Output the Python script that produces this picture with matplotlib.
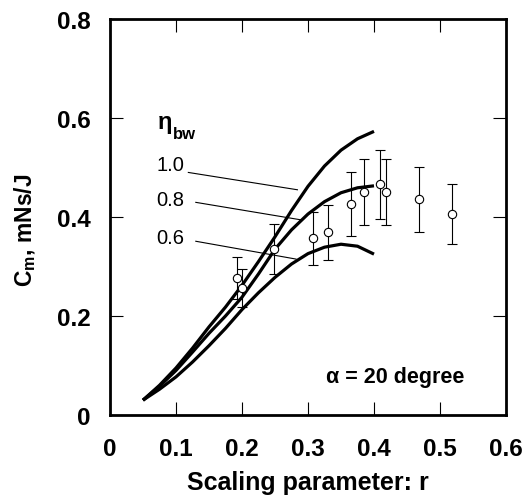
import matplotlib
matplotlib.use("Agg")
import matplotlib.pyplot as plt

plt.rcParams['font.family'] = ['Liberation Sans', 'DejaVu Sans']
plt.rcParams['mathtext.fontset'] = 'custom'
plt.rcParams['mathtext.rm'] = 'Liberation Sans'
plt.rcParams['mathtext.bf'] = 'Liberation Sans:bold'
plt.rcParams['mathtext.it'] = 'Liberation Sans:italic'

# Model curves (eta_bw = 1.0, 0.8, 0.6)
r_curve = [0.05, 0.075, 0.1, 0.125, 0.15, 0.175, 0.2, 0.225, 0.25, 0.275, 0.3, 0.325, 0.35, 0.375, 0.4]
cm_10 = [0.03, 0.06, 0.095, 0.135, 0.178, 0.218, 0.262, 0.31, 0.36, 0.413, 0.462, 0.503, 0.535, 0.558, 0.573]
cm_08 = [0.03, 0.058, 0.09, 0.127, 0.165, 0.2, 0.238, 0.285, 0.335, 0.374, 0.406, 0.431, 0.449, 0.459, 0.463]
cm_06 = [0.03, 0.052, 0.077, 0.107, 0.14, 0.175, 0.213, 0.247, 0.278, 0.305, 0.326, 0.339, 0.345, 0.341, 0.325]

# Measured data
r_data = [0.193, 0.1995, 0.2485, 0.307, 0.331, 0.365, 0.385, 0.409, 0.418, 0.468, 0.5187]
cm_data = [0.277, 0.257, 0.335, 0.357, 0.369, 0.426, 0.450, 0.466, 0.450, 0.436, 0.406]
cm_err = [0.042, 0.038, 0.05, 0.053, 0.055, 0.064, 0.067, 0.07, 0.067, 0.066, 0.061]

labels = ["1.0", "0.8", "0.6"]
x_ticks = [0, 0.1, 0.2, 0.3, 0.4, 0.5, 0.6]
x_ticklabels = ["0", "0.1", "0.2", "0.3", "0.4", "0.5", "0.6"]
y_ticks = [0, 0.2, 0.4, 0.6, 0.8]
y_ticklabels = ["0", "0.2", "0.4", "0.6", "0.8"]

fig = plt.figure(figsize=(5.29, 5.02), dpi=100)
ax = fig.add_axes([110/529, 1 - 416/502, (506 - 110)/529, (416 - 20)/502])

for cm in (cm_10, cm_08, cm_06):
    ax.plot(r_curve, cm, color='black', lw=2.3, solid_capstyle='butt')

ax.errorbar(r_data, cm_data, yerr=cm_err, fmt='o', mfc='white', mec='black',
            ms=6, mew=0.8, ecolor='black', elinewidth=0.8, capsize=3.5, capthick=0.8)

# Annotation labels and leader lines
label_pos = [(0.091, 0.506), (0.091, 0.436), (0.091, 0.358)]
line_start = [(0.1187, 0.490), (0.130, 0.4296), (0.130, 0.351)]
line_end = [(0.284, 0.455), (0.2904, 0.394), (0.2818, 0.315)]
for lab, (lx, ly), (sx, sy), (ex, ey) in zip(labels, label_pos, line_start, line_end):
    ax.text(lx, ly, lab, fontsize=14.5, ha='center', va='center')
    ax.plot([sx, ex], [sy, ey], color='black', lw=0.8)

ax.text(0.072, 0.592, "η", fontsize=17, fontweight='bold', ha='left', va='center')
ax.text(0.0955, 0.568, "bw", fontsize=12, fontweight='bold', ha='left', va='center')

ax.text(0.328, 0.077, "α = 20 degree", fontsize=15.5, fontweight='bold', ha='left', va='center')

ax.set_xlim(0, 0.6)
ax.set_ylim(0, 0.8)
ax.set_xticks(x_ticks)
ax.set_xticklabels(x_ticklabels)
ax.set_yticks(y_ticks)
ax.set_yticklabels(y_ticklabels)
ax.tick_params(direction='in', length=9.5, width=0.8, top=True, right=True,
               labelsize=17.5)
ax.tick_params(axis='x', pad=16)
ax.tick_params(axis='y', pad=14)
for lab in ax.get_xticklabels() + ax.get_yticklabels():
    lab.set_fontweight('bold')
for s in ax.spines.values():
    s.set_linewidth(2.0)

ax.set_xlabel("Scaling parameter: r", fontsize=18, fontweight='bold', labelpad=7)
ax.set_ylabel(r"$\mathbf{C_m}$, mNs/J", fontsize=16.5, fontweight='bold')
ax.yaxis.set_label_coords(-0.183, 0.47)

fig.savefig("out.png", dpi=100)
